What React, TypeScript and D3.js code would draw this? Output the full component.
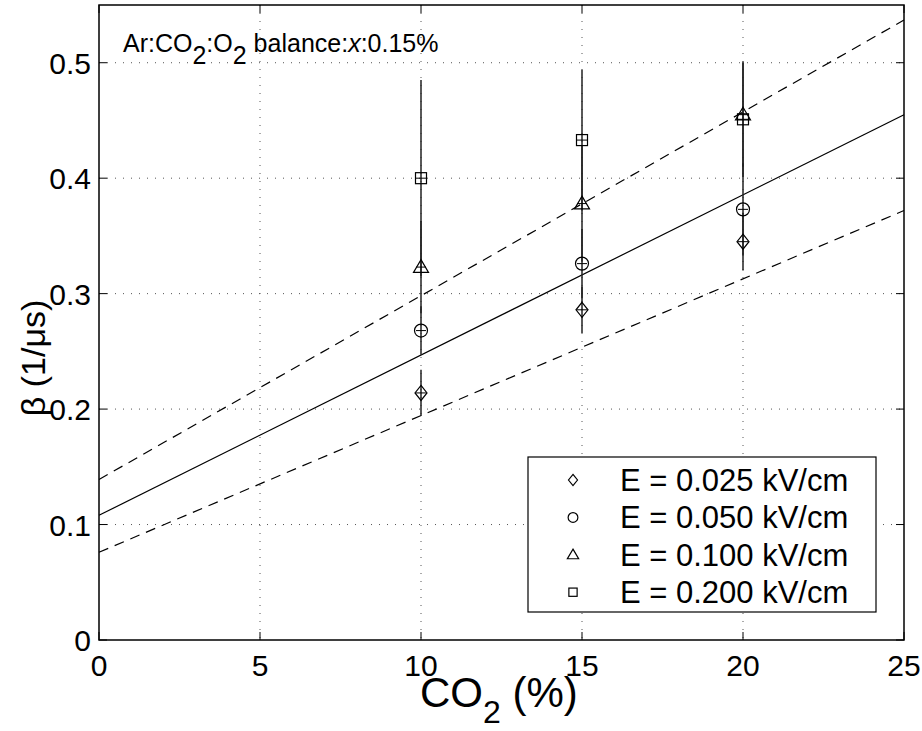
import React from "react";
import * as d3 from "d3";

const co2 = [10, 15, 20];
const beta025 = [0.214, 0.286, 0.345];
const err025 = [0.02, 0.02, 0.025];
const beta050 = [0.268, 0.326, 0.373];
const err050 = [0.021, 0.03, 0.04];
const beta100 = [0.323, 0.378, 0.455];
const err100 = [0.04, 0.05, 0.045];
const beta200 = [0.4, 0.433, 0.451];
const err200 = [0.085, 0.061, 0.05];

const fitX = [0, 25];
const fitMid = [0.108, 0.455];
const fitUpper = [0.139, 0.537];
const fitLower = [0.076, 0.372];

const xTicks = [0, 5, 10, 15, 20, 25];
const yTicks = [0, 0.1, 0.2, 0.3, 0.4, 0.5];
const legendLabels = ["E = 0.025 kV/cm", "E = 0.050 kV/cm", "E = 0.100 kV/cm", "E = 0.200 kV/cm"];

const W = 922, H = 731;
const L = 99, R = 904, T = 5, B = 640;
const FONT = "Liberation Sans, Arial, Helvetica, sans-serif";

function Marker({ kind, x, y, s = 1 }: { kind: string; x: number; y: number; s?: number }) {
  const st = { fill: "none", stroke: "#000", strokeWidth: 1.2 };
  if (kind === "diamond") {
    const r = 7.5 * s;
    return <path d={`M${x},${y - r}L${x + r * 0.8},${y}L${x},${y + r}L${x - r * 0.8},${y}Z`} {...st} />;
  }
  if (kind === "circle") return <circle cx={x} cy={y} r={6.5 * s} {...st} />;
  if (kind === "triangle") {
    const r = 7.5 * s;
    return <path d={`M${x},${y - r}L${x + r},${y + r * 0.7}L${x - r},${y + r * 0.7}Z`} {...st} />;
  }
  const h = 5.5 * s;
  return <rect x={x - h} y={y - h} width={2 * h} height={2 * h} {...st} />;
}

export default function App() {
  const x = d3.scaleLinear().domain([0, 25]).range([L, R]);
  const y = d3.scaleLinear().domain([0, 0.55]).range([B, T]);
  const line = d3.line<[number, number]>().x((d) => x(d[0])).y((d) => y(d[1]));

  const series = [
    { kind: "diamond", v: beta025, e: err025 },
    { kind: "circle", v: beta050, e: err050 },
    { kind: "triangle", v: beta100, e: err100 },
    { kind: "square", v: beta200, e: err200 },
  ];

  const fits = [
    { v: fitUpper, dash: "10,7" },
    { v: fitMid, dash: undefined },
    { v: fitLower, dash: "10,7" },
  ];

  const lgX = 528, lgY = 457, lgW = 348, lgH = 155;

  return (
    <svg width={W} height={H} style={{ position: "absolute", left: 0, top: 0, background: "#fff" }} fontFamily={FONT}>
      <rect x={0} y={0} width={W} height={H} fill="#fff" />
      {/* grid */}
      {xTicks.slice(1, -1).map((t) => (
        <line key={"gx" + t} x1={x(t)} x2={x(t)} y1={T} y2={B} stroke="#555" strokeWidth={1} strokeDasharray="1,7" />
      ))}
      {yTicks.slice(1).map((t) => (
        <line key={"gy" + t} x1={L} x2={R} y1={y(t)} y2={y(t)} stroke="#555" strokeWidth={1} strokeDasharray="1,7" />
      ))}
      {/* fits */}
      {fits.map((f, i) => (
        <path key={"f" + i} d={line(fitX.map((xx, j) => [xx, f.v[j]]) as [number, number][]) || ""} fill="none" stroke="#000" strokeWidth={1.2} strokeDasharray={f.dash} />
      ))}
      {/* error bars */}
      {series.map((s, si) =>
        co2.map((c, i) => (
          <line key={`e${si}-${i}`} x1={x(c)} x2={x(c)} y1={y(s.v[i] - s.e[i])} y2={y(s.v[i] + s.e[i])} stroke="#222" strokeWidth={1.5} />
        ))
      )}
      {/* markers */}
      {series.map((s, si) =>
        co2.map((c, i) => (
          <g key={`m${si}-${i}`}>
            <Marker kind={s.kind} x={x(c)} y={y(s.v[i])} />
            <line x1={x(c) - 5} x2={x(c) + 5} y1={y(s.v[i])} y2={y(s.v[i])} stroke="#000" strokeWidth={1} />
          </g>
        ))
      )}
      {/* axes box and ticks */}
      <rect x={L} y={T} width={R - L} height={B - T} fill="none" stroke="#000" strokeWidth={1.5} />
      {xTicks.map((t) => (
        <g key={"tx" + t}>
          <line x1={x(t)} x2={x(t)} y1={B} y2={B - 8} stroke="#000" strokeWidth={1} />
          <line x1={x(t)} x2={x(t)} y1={T} y2={T + 8} stroke="#000" strokeWidth={1} />
          <text x={x(t)} y={676} fontSize={30} textAnchor="middle">{t}</text>
        </g>
      ))}
      {yTicks.map((t) => (
        <g key={"ty" + t}>
          <line x1={L} x2={L + 8} y1={y(t)} y2={y(t)} stroke="#000" strokeWidth={1} />
          <line x1={R} x2={R - 8} y1={y(t)} y2={y(t)} stroke="#000" strokeWidth={1} />
          <text x={91} y={y(t) + 11} fontSize={30} textAnchor="end">{t === 0 ? "0" : t.toFixed(1)}</text>
        </g>
      ))}
      {/* annotation */}
      <text x={123} y={52} fontSize={25}>
        Ar:CO<tspan dy={12}>2</tspan>
        <tspan dy={-12}>:O</tspan>
        <tspan dy={12}>2</tspan>
        <tspan dy={-12}> balance:</tspan>
        <tspan fontStyle="italic">x</tspan>
        <tspan>:0.15%</tspan>
      </text>
      {/* legend */}
      <rect x={lgX} y={lgY} width={lgW} height={lgH} fill="#fff" stroke="#000" strokeWidth={1.2} />
      {series.map((s, i) => {
        const cy = 480 + i * 37.4;
        return (
          <g key={"lg" + i}>
            <Marker kind={s.kind} x={573} y={cy} s={0.75} />
            <text x={620} y={cy + 11} fontSize={31}>{legendLabels[i]}</text>
          </g>
        );
      })}
      {/* axis labels */}
      <text x={420} y={707} fontSize={42}>
        CO<tspan fontSize={32} dy={16}>2</tspan>
        <tspan dy={-16}> (%)</tspan>
      </text>
      <text transform={`translate(45,358) rotate(-90)`} fontSize={34} textAnchor="middle">β (1/μs)</text>
    </svg>
  );
}
